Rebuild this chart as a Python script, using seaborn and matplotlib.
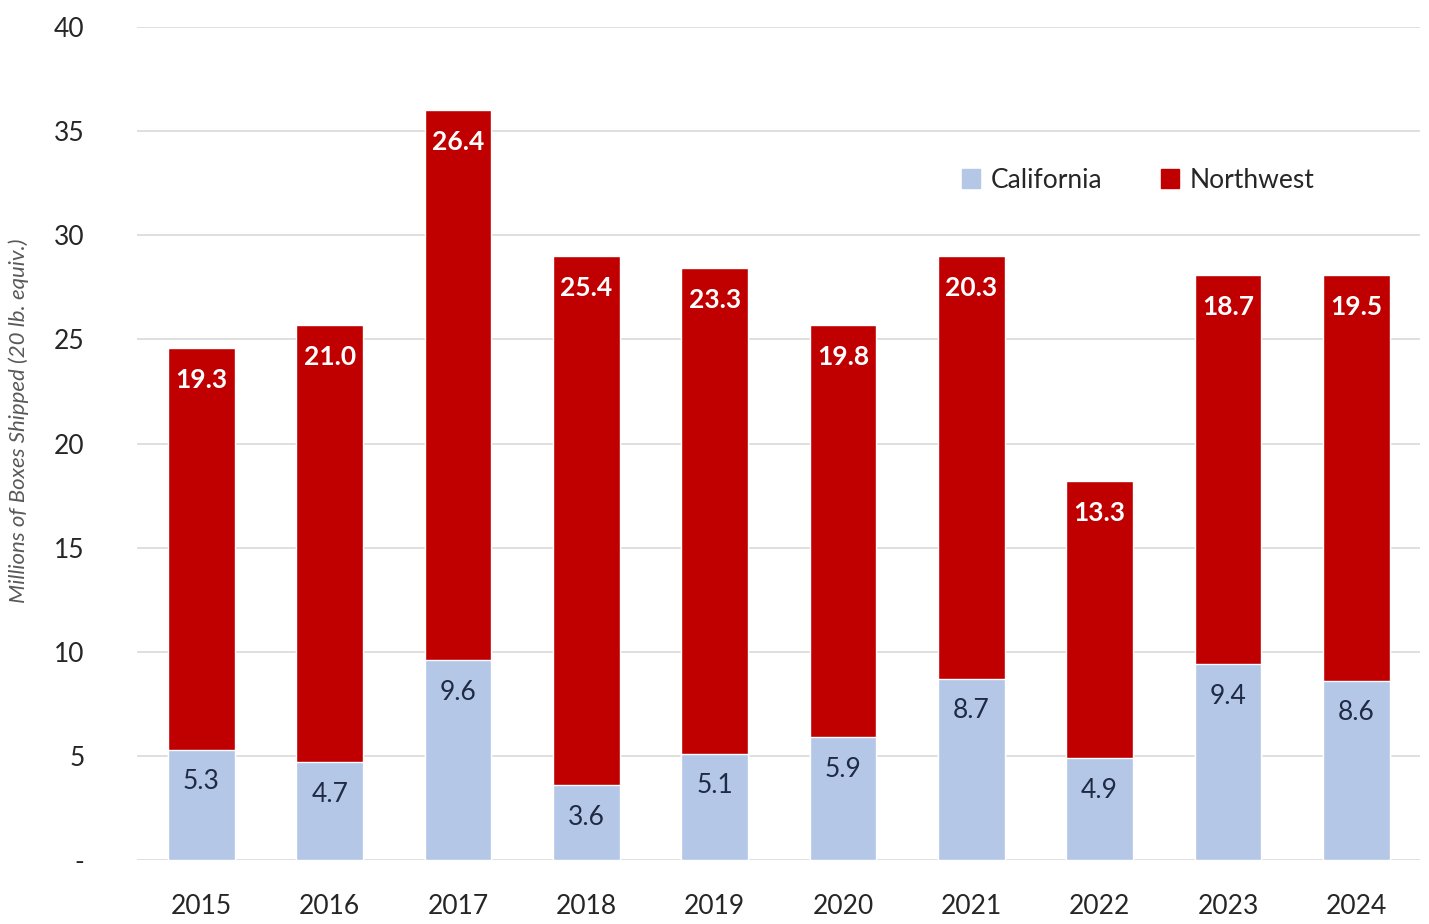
import numpy as np
import pandas as pd
import matplotlib
matplotlib.use("Agg")
import matplotlib.pyplot as plt
import seaborn as sns
from matplotlib.ticker import FuncFormatter, MultipleLocator
from matplotlib.patches import Patch

# Data
years = ["2015", "2016", "2017", "2018", "2019", "2020", "2021", "2022", "2023", "2024"]
california = [5.3, 4.7, 9.6, 3.6, 5.1, 5.9, 8.7, 4.9, 9.4, 8.6]
northwest = [19.3, 21.0, 26.4, 25.4, 23.3, 19.8, 20.3, 13.3, 18.7, 19.5]
series_names = ["California", "Northwest"]

CAL_COLOR = "#B4C7E7"
NW_COLOR = "#C00000"

sns.set_theme(style="white")
plt.rcParams["font.family"] = ["Lato", "DejaVu Sans"]

df = pd.DataFrame({"Year": years, "California": california, "Northwest": northwest})
df["Total"] = df["California"] + df["Northwest"]

fig = plt.figure(figsize=(14.29, 9.24), dpi=100)
ax = fig.add_axes([0.096, 0.069, 0.898, 0.902])

# stacked bars: draw the total in red, then California over it
sns.barplot(data=df, x="Year", y="Total", color=NW_COLOR, width=0.52,
            saturation=1, ax=ax, zorder=2)
sns.barplot(data=df, x="Year", y="California", color=CAL_COLOR, width=0.52,
            saturation=1, ax=ax, zorder=3)

for i, row in df.iterrows():
    ax.annotate(f"{row['Northwest']:.1f}", (i, row["Total"]), xytext=(0, -23),
                textcoords="offset points", ha="center", va="center",
                color="white", fontsize=19, fontweight="bold", zorder=5)
    ax.annotate(f"{row['California']:.1f}", (i, row["California"]), xytext=(0, -23),
                textcoords="offset points", ha="center", va="center",
                color="#1F2A44", fontsize=19, zorder=5)

ax.set_ylim(0, 40)
ax.set_xlim(-0.5, 9.5)
ax.yaxis.set_major_locator(MultipleLocator(5))
ax.yaxis.set_major_formatter(FuncFormatter(lambda v, p: "-" if v == 0 else f"{v:.0f}"))
ax.grid(axis="y", color="#D9D9D9", linewidth=1.2, zorder=0)
ax.set_axisbelow(True)
for s in ax.spines.values():
    s.set_visible(False)
ax.tick_params(axis="both", length=0, labelsize=19, colors="#262626")
ax.tick_params(axis="y", pad=38)
ax.tick_params(axis="x", pad=24)
ax.set_xlabel("")
ax.set_ylabel("Millions of Boxes Shipped (20 lb. equiv.)", fontsize=16,
              fontstyle="italic", color="#595959")
ax.yaxis.set_label_coords(-0.084, 0.527)

handles = [Patch(color=CAL_COLOR), Patch(color=NW_COLOR)]
ax.legend(handles, series_names, loc="center", bbox_to_anchor=(0.78, 0.816),
          ncol=2, frameon=False, fontsize=19, handlelength=0.7, handleheight=0.7,
          handletextpad=0.4, columnspacing=2.2)

fig.savefig("out.png", dpi=100)
